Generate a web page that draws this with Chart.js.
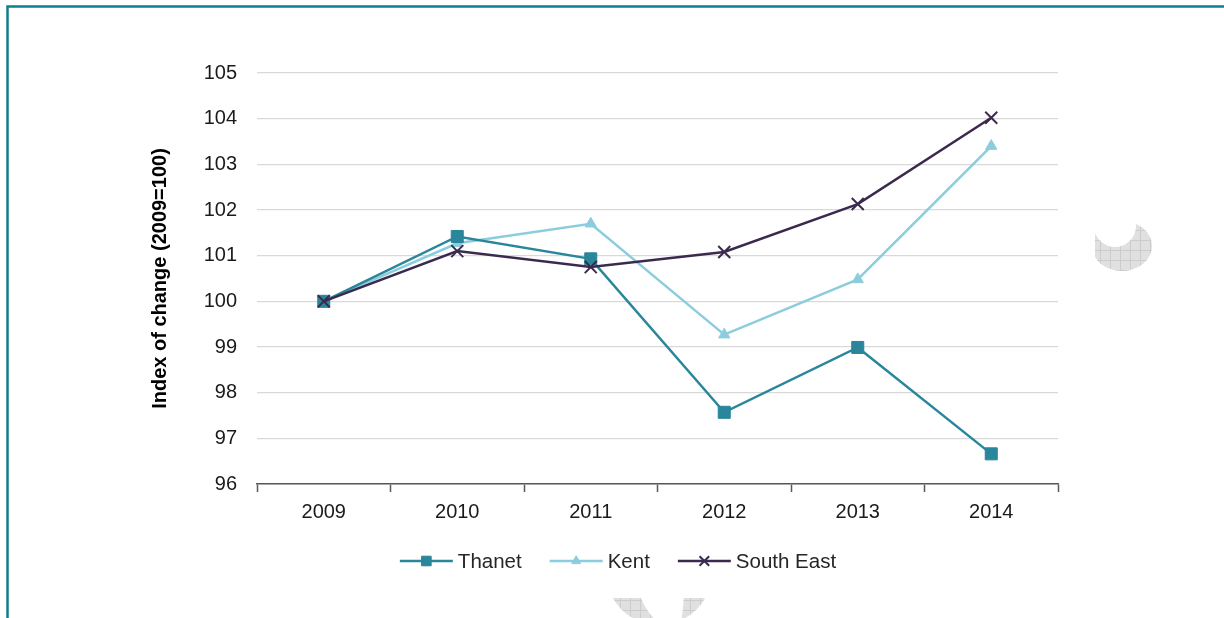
<!DOCTYPE html>
<html>
<head>
<meta charset="utf-8">
<script src="https://cdn.jsdelivr.net/npm/chart.js@4"></script>
<style>
  html, body { margin: 0; padding: 0; background: #fff; }
  #wrap { width: 1224px; height: 618px; position: relative; }
</style>
</head>
<body>
<div id="wrap"><canvas id="chart" width="1224" height="618"></canvas></div>
<script>
// データ
const years = ['2009', '2010', '2011', '2012', '2013', '2014'];
const thanet = [100, 101.42, 100.93, 97.57, 98.99, 96.66];
const kent = [100, 101.27, 101.7, 99.27, 100.48, 103.4];
const southEast = [100, 101.1, 100.75, 101.08, 102.13, 104.02];
const yMin = 96;
const yMax = 105;
const yStep = 1;

const FONT = '"Liberation Sans", Arial, sans-serif';

// 枠線と背景の透かし
const backdrop = {
  id: 'backdrop',
  beforeDraw(chart) {
    const ctx = chart.ctx;
    const W = chart.width, H = chart.height;
    ctx.save();
    // 格子模様で塗る（clip は呼び出し側で設定）
    const hatch = () => {
      ctx.fillStyle = '#e0e0e0';
      ctx.fillRect(0, 0, W, H);
      ctx.strokeStyle = '#cccccc';
      ctx.lineWidth = 1;
      for (let x = 0; x < W; x += 10) {
        ctx.beginPath(); ctx.moveTo(x + 0.5, 0); ctx.lineTo(x + 0.5, H); ctx.stroke();
      }
      for (let y = 0; y < H; y += 10) {
        ctx.beginPath(); ctx.moveTo(0, y + 0.5); ctx.lineTo(W, y + 0.5); ctx.stroke();
      }
    };

    // 右側の三日月
    ctx.save();
    ctx.beginPath();
    ctx.rect(1095, 0, W, H);
    ctx.clip();
    ctx.beginPath();
    ctx.ellipse(1122, 246, 30, 25, 0, 0, Math.PI * 2);
    ctx.clip();
    ctx.beginPath();
    ctx.rect(0, 0, W, H);
    ctx.arc(1115, 226, 21, 0, Math.PI * 2);
    ctx.clip('evenodd');
    hatch();
    ctx.restore();

    // 下側の欠片
    ctx.save();
    ctx.beginPath();
    ctx.rect(0, 598, W, H);
    ctx.clip();
    ctx.beginPath();
    ctx.arc(659, 572, 53, 0, Math.PI * 2);
    ctx.clip();
    ctx.beginPath();
    ctx.rect(0, 0, W, H);
    ctx.moveTo(638, 590);
    ctx.quadraticCurveTo(645, 612, 658, 622);
    ctx.lineTo(681, 622);
    ctx.quadraticCurveTo(684, 605, 684, 590);
    ctx.closePath();
    ctx.clip('evenodd');
    hatch();
    ctx.restore();

    // 枠線
    ctx.strokeStyle = '#0e7f8a';
    ctx.lineWidth = 2.5;
    ctx.strokeRect(7.5, 6.5, W + 20, H + 20);
    ctx.restore();
  }
};

// 凡例（線＋マーカー）
const lineLegend = {
  id: 'lineLegend',
  afterDraw(chart) {
    const ctx = chart.ctx;
    const sets = chart.data.datasets;
    const lineLen = 53, gap = 5, spacing = 28, y = 561;
    ctx.save();
    ctx.font = '20.5px ' + FONT;
    const widths = sets.map(ds => lineLen + gap + ctx.measureText(ds.label).width);
    const total = widths.reduce((a, b) => a + b, 0) + spacing * (sets.length - 1);
    let x = 618 - total / 2;
    sets.forEach((ds, i) => {
      ctx.strokeStyle = ds.borderColor;
      ctx.fillStyle = ds.borderColor;
      ctx.lineWidth = 2.5;
      ctx.beginPath();
      ctx.moveTo(x, y);
      ctx.lineTo(x + lineLen, y);
      ctx.stroke();
      ctx.lineWidth = ds.pointBorderWidth;
      Chart.helpers.drawPoint(ctx, {
        pointStyle: ds.pointStyle,
        radius: ds.pointRadius * 0.8,
        borderWidth: ds.pointBorderWidth
      }, x + lineLen / 2, y);
      ctx.fillStyle = '#262626';
      ctx.textBaseline = 'middle';
      ctx.fillText(ds.label, x + lineLen + gap, y + 1);
      x += widths[i] + spacing;
    });
    ctx.restore();
  }
};

const ctx = document.getElementById('chart').getContext('2d');

new Chart(ctx, {
  type: 'line',
  data: {
    labels: years,
    datasets: [
      {
        label: 'Thanet',
        data: thanet,
        borderColor: '#2a869a',
        backgroundColor: '#2a869a',
        borderWidth: 2.5,
        pointStyle: 'rect',
        pointRadius: 8.5,
        pointBorderWidth: 1,
        order: 1
      },
      {
        label: 'Kent',
        data: kent,
        borderColor: '#8ccddd',
        backgroundColor: '#8ccddd',
        borderWidth: 2.5,
        pointStyle: 'triangle',
        pointRadius: 6.5,
        pointBorderWidth: 1,
        order: 2
      },
      {
        label: 'South East',
        data: southEast,
        borderColor: '#3b2a4e',
        backgroundColor: '#3b2a4e',
        borderWidth: 2.5,
        pointStyle: 'crossRot',
        pointRadius: 8.5,
        pointBorderWidth: 2,
        order: 0
      }
    ]
  },
  options: {
    responsive: false,
    animation: false,
    devicePixelRatio: 1,
    layout: { padding: { left: 144, right: 166, top: 73, bottom: 94 } },
    plugins: {
      legend: { display: false },
      tooltip: { enabled: false }
    },
    scales: {
      x: {
        offset: true,
        grid: {
          offset: true,
          drawOnChartArea: false,
          drawTicks: true,
          tickLength: 8,
          tickColor: '#595959',
          tickWidth: 1.5
        },
        border: { display: true, color: '#595959', width: 1.5 },
        ticks: {
          padding: 8,
          color: '#1a1a1a',
          font: { family: FONT, size: 20 }
        },
        afterFit(scale) { scale.height = 40; }
      },
      y: {
        min: yMin,
        max: yMax,
        ticks: {
          stepSize: yStep,
          padding: 20,
          color: '#1a1a1a',
          font: { family: FONT, size: 20 }
        },
        grid: { color: '#d9d9d9', lineWidth: 1.3, drawTicks: false },
        border: { display: false },
        title: {
          display: true,
          text: 'Index of change (2009=100)',
          color: '#000',
          font: { family: FONT, size: 20, weight: 'bold' },
          padding: { top: 4, bottom: 0 }
        },
        afterFit(scale) { scale.width = 113; }
      }
    }
  },
  plugins: [backdrop, lineLegend]
});
</script>
</body>
</html>
